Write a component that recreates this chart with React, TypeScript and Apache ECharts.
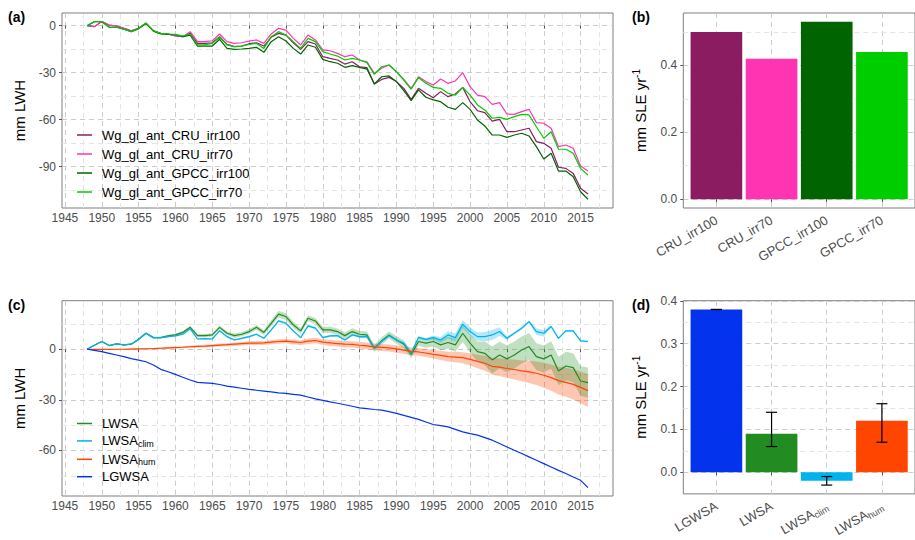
import React, { useEffect, useRef } from "react";
import * as echarts from "echarts";

const FONT = "'Liberation Sans', Arial, Helvetica, sans-serif";

// ---------- data ----------
const years = Array.from({ length: 69 }, (_, i) => 1948 + i);

const seriesNamesA = ["Wg_gl_ant_CRU_irr100", "Wg_gl_ant_CRU_irr70", "Wg_gl_ant_GPCC_irr100", "Wg_gl_ant_GPCC_irr70"];
const colorsA = ["#8B1C62", "#FF34B3", "#006400", "#00CD00"];

const cruIrr100 = [
  0, -0.6, 2.6, 0.4, -0.2, -1.7, -3.2, -1.7, 1.5, -3.2,
  -4.9, -5.3, -6.6, -7, -4.9, -11.3, -11.3, -10.9, -7, -11.9,
  -13.4, -13, -11.5, -10.9, -13, -7.4, -4.9, -6, -10.9, -15.1,
  -10.2, -11.7, -19.8, -20.9, -21.9, -24.5, -23, -26.2, -26.8, -37.2,
  -34.3, -33, -35.7, -40, -47, -40, -43.2, -46, -42.1, -45.3,
  -43.6, -39.4, -48.5, -54.3, -55.5, -60.9, -59.8, -67.7, -67.7, -66.6,
  -65.5, -74, -75.1, -78.3, -90.4, -91.1, -94.3, -103.8, -107.4,
];
const cruIrr70 = [
  0, -0.6, 2.6, 0.4, -0.2, -1.7, -3.2, -1.7, 1.5, -3.2,
  -4.9, -5.3, -6.6, -7, -3.8, -10.2, -10.2, -9.6, -5.3, -10.2,
  -11.3, -10.9, -9.8, -9.1, -11.3, -5.3, -1.7, -2.8, -8.1, -12.3,
  -6, -9.1, -15.5, -16, -17.7, -19.8, -18.7, -21.9, -23, -30.4,
  -27.2, -25.1, -29.4, -34.3, -40, -32.6, -35.7, -37.9, -34, -36.8,
  -35.3, -30, -38.9, -44.3, -45.3, -50.2, -49.1, -56.4, -56.6, -54.9,
  -53.4, -61.9, -62.3, -65.5, -77.2, -76.2, -78.3, -89.6, -92.8,
];
const gpccIrr100 = [
  0, 2.6, 2.6, -1, -1, -2.3, -3.8, -2, 1.5, -3.5,
  -5.2, -5.5, -5.8, -7, -6, -13, -13, -13, -8.7, -14.5,
  -15.1, -14.9, -14.5, -13.8, -17, -10.2, -7, -9.8, -14.5, -18.1,
  -12.3, -13.8, -21.5, -23, -24, -26.6, -25.5, -26.6, -27.7, -37.2,
  -32.6, -32.1, -35.7, -41.5, -47.9, -41, -45.7, -47.4, -48.5, -52.1,
  -53.4, -49.1, -53.4, -60.2, -64, -69.8, -69.8, -71.3, -69.8, -68.7,
  -70.4, -77.2, -85.1, -81.5, -92.8, -92.8, -96.4, -106, -110.8,
];
const gpccIrr70 = [
  0, 2.6, 2.6, -1, -1, -2.3, -3.8, -1.8, 1.8, -3.2,
  -4.9, -5.3, -5.5, -6.6, -5.3, -12.3, -12.3, -11.3, -7.4, -12.3,
  -13.4, -13, -12, -11.3, -14.5, -7, -3.8, -6, -10.2, -14.5,
  -8.1, -10.2, -16.6, -18.1, -19.4, -21.9, -20.9, -21.9, -23.6, -31.1,
  -26.2, -25.1, -29.4, -34.7, -40.6, -33.2, -36.8, -39.4, -40, -43.2,
  -44.3, -39.4, -44.3, -50.6, -53.8, -59.1, -58.5, -59.8, -58.1, -56.6,
  -57, -64.5, -71.9, -67.7, -78.9, -78.9, -81.5, -91.1, -95.3,
];
const valuesA = [cruIrr100, cruIrr70, gpccIrr100, gpccIrr70];

const barCatsB = ["CRU_irr100", "CRU_irr70", "GPCC_irr100", "GPCC_irr70"];
const barValsB = [0.5, 0.42, 0.53, 0.44];
const barColorsB = ["#8B1C62", "#FF34B3", "#006400", "#00CD00"];

const seriesNamesC = ["LWSA", "LWSA_clim", "LWSA_hum", "LGWSA"];
const colorsC = ["#228B22", "#00B2EE", "#FF4500", "#0433EE"];
const lwsa = [
  0, 2.4, 4.6, 2.2, 3.2, 2.6, 3, 5.9, 9.5, 6.9,
  6.9, 7.9, 8.5, 10, 13, 8.1, 8.1, 8.5, 13, 9.5,
  8.1, 8.9, 10.5, 13, 10, 15.4, 20.8, 19.4, 14.5, 10.9,
  18.4, 16.8, 11.5, 11.5, 10.5, 8.1, 10.5, 8.9, 8.5, 0.6,
  5, 8.5, 5.5, 3, -3, 4.6, 3.6, 4.6, 2.6, 4,
  2.6, 9.5, 3.6, -1.4, -2.4, -6.3, -3.4, -5.7, -3.4, -0.4,
  1.6, -4.4, -5.7, -3.4, -12.9, -9.9, -10.9, -18.8, -19.8,
];
const lwsaClim = [
  0, 2.4, 4.6, 2.2, 3.2, 2.6, 3, 5.9, 9.5, 6.9,
  6.9, 7.5, 7.9, 8.9, 12.1, 6.1, 6.3, 6.1, 11, 7.5,
  5.5, 6.5, 7.5, 8.9, 6.5, 11.5, 16.8, 15.4, 10.9, 6.9,
  13.9, 12.5, 6.9, 7.9, 8.1, 5.5, 8.5, 7.5, 7.5, 0.6,
  4.6, 8.1, 5.5, 3.6, -2.4, 7.1, 5.9, 6.9, 5.5, 8.5,
  6.9, 14.9, 10.5, 7.5, 7.5, 8.5, 10.5, 6.5, 9.5, 12.5,
  16.4, 10.5, 9.5, 13.5, 6.5, 10.9, 10.9, 5, 4.6,
];
const lwsaHum = [
  0, -0.1, -0.1, -0.1, 0, 0, 0.1, 0.2, 0.3, 0.4,
  0.6, 0.8, 1, 1.2, 1.5, 1.7, 1.9, 2.2, 2.5, 2.7,
  3, 3.3, 3.6, 3.7, 3.8, 4.2, 4.6, 4.8, 4.4, 4,
  4.8, 5.2, 4.2, 3.8, 3.4, 3, 2.9, 2.4, 2, 1.4,
  1.1, 0.8, 0.2, -0.5, -1.2, -1.6, -2.2, -3, -3.6, -4.4,
  -4.6, -5, -6, -7.2, -8.3, -10.1, -10.6, -11.4, -12, -12.8,
  -13.4, -14.2, -15.4, -16.8, -18.6, -19.6, -20.8, -22.6, -24.5,
];
const lgwsa = [
  0, -0.7, -1.4, -2.4, -3.4, -4.4, -5.5, -6.4, -7.4, -9.3,
  -11.9, -13.3, -14.9, -16.6, -18.2, -19.6, -19.9, -20.2, -20.9, -21.8,
  -22.4, -23.1, -23.8, -24.3, -24.8, -25.3, -25.8, -26.2, -26.7, -27.2,
  -28.3, -29.4, -30.3, -31.2, -32, -32.9, -33.8, -34.7, -35.2, -35.7,
  -36.1, -37, -38, -39.2, -40.4, -41.6, -43.1, -44.6, -45.3, -46,
  -47.5, -49, -50, -50.9, -52.4, -53.9, -55.9, -57.9, -59.9, -61.8,
  -63.8, -65.8, -67.8, -69.8, -71.8, -73.7, -75.7, -77.7, -82,
];
const valuesC = [lwsa, lwsaClim, lwsaHum, lgwsa];

// half-widths of the uncertainty ribbons
const hwLwsa = [
  0, 0.2, 0.3, 0.3, 0.4, 0.4, 0.5, 0.5, 0.6, 0.6,
  0.7, 0.7, 0.8, 0.8, 0.9, 0.9, 1, 1, 1.1, 1.1,
  1.2, 1.2, 1.3, 1.4, 1.5, 1.8, 2, 2, 1.8, 1.7,
  1.8, 1.8, 1.8, 1.8, 1.8, 1.9, 1.9, 2, 2, 2,
  2.1, 2.1, 2.2, 2.2, 2.3, 2.5, 2.7, 3, 3.3, 3.6,
  4, 5, 5.5, 6, 7, 8, 8, 8, 8, 8,
  8, 8, 8, 8.2, 8.4, 8.5, 8.6, 8.8, 9,
];
const hwClim = [
  0, 0.2, 0.2, 0.2, 0.3, 0.3, 0.3, 0.3, 0.3, 0.3,
  0.4, 0.4, 0.5, 0.5, 0.5, 0.5, 0.5, 0.5, 0.6, 0.6,
  0.6, 0.6, 0.6, 0.6, 0.6, 0.7, 0.8, 0.8, 0.7, 0.6,
  0.7, 0.7, 0.6, 0.6, 0.6, 0.6, 0.6, 0.6, 0.6, 0.6,
  0.6, 0.6, 0.6, 0.8, 0.8, 0.8, 0.8, 1.2, 1.8, 2.2,
  2.5, 2.5, 2.5, 2.5, 2.8, 3, 2.5, 1, 0.8, 0.8,
  0.8, 2, 2, 0.8, 0.6, 0.6, 0.6, 0.6, 0.6,
];
const hwHum = [
  0, 0.1, 0.1, 0.2, 0.2, 0.3, 0.3, 0.3, 0.4, 0.4,
  0.5, 0.5, 0.6, 0.6, 0.7, 0.7, 0.8, 0.8, 0.9, 0.9,
  1, 1, 1.1, 1.1, 1.2, 1.2, 1.3, 1.3, 1.4, 1.4,
  1.6, 1.7, 1.7, 1.8, 1.8, 1.9, 1.9, 2, 2, 2,
  2.1, 2.1, 2.2, 2.2, 2.3, 2.3, 2.4, 2.5, 2.7, 2.9,
  3.1, 3.3, 3.6, 4, 4.5, 5, 5.3, 5.6, 5.9, 6.2,
  6.6, 7, 7.4, 7.8, 8.2, 8.6, 9, 9.4, 9.8,
];

const barCatsD = ["LGWSA", "LWSA", "LWSA_clim", "LWSA_hum"];
const barValsD = [0.38, 0.09, -0.02, 0.12];
const errLowD = [0.38, 0.06, -0.03, 0.07];
const errHighD = [0.38, 0.14, -0.01, 0.16];
const barColorsD = ["#0433EE", "#228B22", "#00B2EE", "#FF4500"];

// tick labels
const yearTicks = [1945, 1950, 1955, 1960, 1965, 1970, 1975, 1980, 1985, 1990, 1995, 2000, 2005, 2010, 2015];
const yearMinor = [1947.5, 1952.5, 1957.5, 1962.5, 1967.5, 1972.5, 1977.5, 1982.5, 1987.5, 1992.5, 1997.5, 2002.5, 2007.5, 2012.5, 2017.5];
const lwhTicksA = [-90, -60, -30, 0];
const lwhMinorA = [-105, -75, -45, -15];
const lwhTicksC = [-60, -30, 0];
const lwhMinorC = [-75, -45, -15, 15];
const sleTicksB = [0, 0.2, 0.4];
const sleMinorB = [0.1, 0.3, 0.5];
const sleTicksD = [0, 0.1, 0.2, 0.3, 0.4];
const sleMinorD = [0.05, 0.15, 0.25, 0.35];
const catTicks = [1, 2, 3, 4];

// ---------- layout ----------
const GRIDS = [
  { left: 62, top: 13, width: 551, height: 195 },
  { left: 683.3, top: 13, width: 241.1, height: 195 },
  { left: 62, top: 300.7, width: 551, height: 195.3 },
  { left: 683.3, top: 300.7, width: 241.1, height: 195.3 },
];
const YEAR_LIM = [1944.6, 2019.4];
const CAT_LIM = [0.4, 4.6];
const Y_A = [-116.4, 8.1];
const Y_B = [-0.0265, 0.5565];
const Y_C = [-87, 28.8];
const Y_D = [-0.0505, 0.4005];

const TICK_TXT = { color: "#4D4D4D", fontSize: 12, fontFamily: FONT };
const MAJOR = { show: true, lineStyle: { color: "#CCCCCC", width: 1, type: [5, 4] } };
const AXIS_TICK = { show: true, length: 3, lineStyle: { color: "#555555", width: 1 } };
const LEGEND_ICON = "path://M0,0L30,0L30,3L0,3Z";

const onTicks = (list: number[], fn: (v: number) => string) => (v: number) =>
  list.some((t) => Math.abs(t - v) < 1e-6) ? fn(v) : "";

function valueAxis(gridIndex: number, lim: number[], ticks: number[], splitNumber: number, fmt: (v: number) => string, extra: any = {}) {
  return {
    type: "value",
    gridIndex,
    min: lim[0],
    max: lim[1],
    splitNumber,
    axisLine: { show: false },
    axisTick: { ...AXIS_TICK, customValues: ticks },
    axisLabel: { ...TICK_TXT, customValues: ticks, formatter: onTicks(ticks, fmt), ...(extra.axisLabel || {}) },
    splitLine: MAJOR,
    ...extra.rest,
  };
}

const richSub = (name: string) => {
  const k = name.indexOf("_");
  if (k < 0) return `{n|${name}}`;
  return `{n|${name.slice(0, k)}}{s|${name.slice(k + 1)}}`;
};

const minorLines = (xs: number[], ys: number[]) => ({
  silent: true,
  symbol: ["none", "none"],
  z: 1,
  animation: false,
  label: { show: false },
  emphasis: { disabled: true },
  lineStyle: { color: "#E4E4E4", width: 1, type: [5, 4] },
  data: [...xs.map((v) => ({ xAxis: v })), ...ys.map((v) => ({ yAxis: v }))],
});

const band = (center: number[], hw: number[], color: string) => ({
  type: "custom",
  xAxisIndex: 2,
  yAxisIndex: 2,
  z: 2,
  silent: true,
  data: [[years[0], center[0]]],
  renderItem: (_p: any, api: any) => {
    const upper = years.map((y, i) => api.coord([y, center[i] + hw[i]]));
    const lower = years.map((y, i) => api.coord([y, center[i] - hw[i]])).reverse();
    return { type: "polygon", shape: { points: upper.concat(lower) }, style: { fill: color } };
  },
});

function buildOption() {
  const nameStyle = { fontSize: 15, color: "#000", fontFamily: FONT };
  const sleName = "{n|mm SLE yr}{p|-1}";
  const sleNameStyle = {
    rich: {
      n: { fontSize: 15, color: "#000", fontFamily: FONT, lineHeight: 18 },
      p: { fontSize: 10, color: "#000", fontFamily: FONT, lineHeight: 10, padding: [0, 0, 8, 0] },
    },
  };
  const catRich = {
    n: { fontSize: 13, color: "#4D4D4D", fontFamily: FONT, lineHeight: 16 },
    s: { fontSize: 9, color: "#4D4D4D", fontFamily: FONT, lineHeight: 9, padding: [7, 0, 0, 0] },
  };
  const barW = (GRIDS[1].width * 0.9) / (CAT_LIM[1] - CAT_LIM[0]);

  const xAxes = [
    valueAxis(0, YEAR_LIM, yearTicks, 15, (v) => String(v), { axisLabel: { margin: 4 } }),
    valueAxis(1, CAT_LIM, catTicks, 4, (v) => barCatsB[Math.round(v) - 1], {
      axisLabel: { margin: 11, rotate: 30, fontSize: 13 },
    }),
    valueAxis(2, YEAR_LIM, yearTicks, 15, (v) => String(v), { axisLabel: { margin: 4 } }),
    valueAxis(3, CAT_LIM, catTicks, 4, (v) => richSub(barCatsD[Math.round(v) - 1]), {
      axisLabel: { margin: 11, rotate: 30, rich: catRich },
    }),
  ];
  const yAxes = [
    valueAxis(0, Y_A, lwhTicksA, 4, (v) => String(v), {
      axisLabel: { margin: 6 },
      rest: { name: "mm LWH", nameLocation: "middle", nameRotate: 90, nameGap: 35, nameTextStyle: nameStyle },
    }),
    valueAxis(1, Y_B, sleTicksB, 3, (v) => v.toFixed(1), {
      axisLabel: { margin: 6 },
      rest: { name: sleName, nameLocation: "middle", nameRotate: 90, nameGap: 34, nameTextStyle: sleNameStyle },
    }),
    valueAxis(2, Y_C, lwhTicksC, 4, (v) => String(v), {
      axisLabel: { margin: 6 },
      rest: { name: "mm LWH", nameLocation: "middle", nameRotate: 90, nameGap: 35, nameTextStyle: nameStyle },
    }),
    valueAxis(3, Y_D, sleTicksD, 5, (v) => v.toFixed(1), {
      axisLabel: { margin: 6 },
      rest: { name: sleName, nameLocation: "middle", nameRotate: 90, nameGap: 34, nameTextStyle: sleNameStyle },
    }),
  ];

  const seriesA = seriesNamesA.map((name, k) => ({
    type: "line",
    name,
    xAxisIndex: 0,
    yAxisIndex: 0,
    z: 3,
    symbol: "none",
    lineStyle: { color: colorsA[k], width: 1.2 },
    itemStyle: { color: colorsA[k] },
    data: years.map((y, i) => [y, valuesA[k][i]]),
    ...(k === 0 ? { markLine: minorLines(yearMinor, lwhMinorA) } : {}),
  }));

  const seriesB = {
    type: "bar",
    xAxisIndex: 1,
    yAxisIndex: 1,
    z: 2,
    barWidth: barW,
    data: barValsB.map((v, i) => ({ value: [catTicks[i], v], itemStyle: { color: barColorsB[i] } })),
    markLine: minorLines([], sleMinorB),
  };

  const bandsC = [
    band(lwsaHum, hwHum, "rgba(255,69,0,0.3)"),
    band(lwsa, hwLwsa, "rgba(34,139,34,0.28)"),
    band(lwsaClim, hwClim, "rgba(0,178,238,0.3)"),
  ];

  const seriesC = seriesNamesC.map((name, k) => ({
    type: "line",
    name,
    xAxisIndex: 2,
    yAxisIndex: 2,
    z: 3,
    symbol: "none",
    lineStyle: { color: colorsC[k], width: 1.2 },
    itemStyle: { color: colorsC[k] },
    data: years.map((y, i) => [y, valuesC[k][i]]),
    ...(k === 0 ? { markLine: minorLines(yearMinor, lwhMinorC) } : {}),
  }));

  const seriesD = {
    type: "bar",
    xAxisIndex: 3,
    yAxisIndex: 3,
    z: 2,
    barWidth: barW,
    data: barValsD.map((v, i) => ({ value: [catTicks[i], v], itemStyle: { color: barColorsD[i] } })),
    markLine: minorLines([], sleMinorD),
  };

  const errD = {
    type: "custom",
    xAxisIndex: 3,
    yAxisIndex: 3,
    z: 4,
    silent: true,
    data: barCatsD.map((_, i) => [catTicks[i], errLowD[i], errHighD[i]]),
    encode: { x: 0, y: [1, 2] },
    renderItem: (_p: any, api: any) => {
      const x = api.value(0);
      const lo = api.coord([x, api.value(1)]);
      const hi = api.coord([x, api.value(2)]);
      const half = api.size([0.1, 0])[0];
      const st = { stroke: "#000", lineWidth: 1.2 };
      return {
        type: "group",
        children: [
          { type: "line", shape: { x1: lo[0], y1: hi[1], x2: lo[0], y2: lo[1] }, style: st },
          { type: "line", shape: { x1: lo[0] - half, y1: hi[1], x2: lo[0] + half, y2: hi[1] }, style: st },
          { type: "line", shape: { x1: lo[0] - half, y1: lo[1], x2: lo[0] + half, y2: lo[1] }, style: st },
        ],
      };
    },
  };

  const panelLabel = (text: string, left: number, top: number) => ({
    text,
    left,
    top,
    padding: 0,
    textStyle: { fontSize: 14, fontWeight: "bold", color: "#000", fontFamily: FONT, lineHeight: 16 },
  });

  const legendBase = {
    orient: "vertical",
    left: 77,
    padding: 0,
    itemWidth: 15,
    itemHeight: 1.5,
    icon: LEGEND_ICON,
    selectedMode: false,
  };

  return {
    animation: false,
    backgroundColor: "#ffffff",
    title: [
      panelLabel("(a)", 8, 9),
      panelLabel("(b)", 632, 9),
      panelLabel("(c)", 8, 297),
      panelLabel("(d)", 632, 297),
    ],
    grid: GRIDS.map((g) => ({ ...g, show: true, borderColor: "#7F7F7F", borderWidth: 1, backgroundColor: "transparent", containLabel: false })),
    xAxis: xAxes,
    yAxis: yAxes,
    legend: [
      {
        ...legendBase,
        top: 128,
        itemGap: 5,
        data: seriesNamesA,
        textStyle: { fontSize: 13, color: "#000", fontFamily: FONT, lineHeight: 14, padding: [0, 0, 0, 5] },
      },
      {
        ...legendBase,
        top: 417,
        itemGap: 3.4,
        data: seriesNamesC,
        formatter: (name: string) => richSub(name),
        textStyle: {
          color: "#000",
          fontFamily: FONT,
          padding: [0, 0, 0, 5],
          rich: {
            n: { fontSize: 13, color: "#000", fontFamily: FONT, lineHeight: 15 },
            s: { fontSize: 9, color: "#000", fontFamily: FONT, lineHeight: 9, padding: [6, 0, 0, 0] },
          },
        },
      },
    ],
    series: [...seriesA, seriesB, ...bandsC, ...seriesC, seriesD, errD],
  };
}

export default function App() {
  const ref = useRef<HTMLDivElement>(null);
  useEffect(() => {
    if (!ref.current) return;
    const chart = echarts.init(ref.current, null, { renderer: "svg" });
    chart.setOption(buildOption() as any);
    return () => chart.dispose();
  }, []);
  return (
    <div
      ref={ref}
      style={{ position: "fixed", left: 0, top: 0, width: 915, height: 540, background: "#fff" }}
    />
  );
}
